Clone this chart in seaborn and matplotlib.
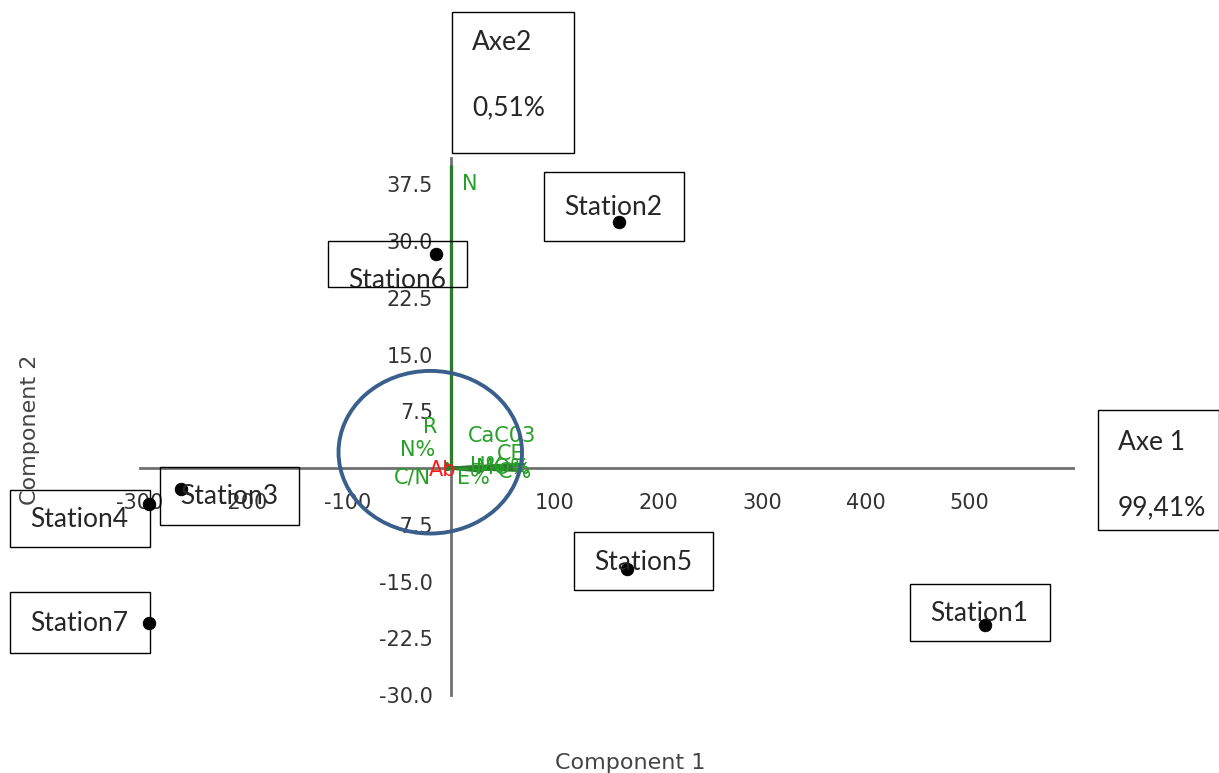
import matplotlib
matplotlib.use("Agg")
import matplotlib.pyplot as plt
import seaborn as sns
import pandas as pd
from matplotlib.patches import Rectangle, Ellipse

# Station scores on the two first components
stations = ["Station1", "Station2", "Station3", "Station4", "Station5", "Station6", "Station7"]
comp1 = [515, 162, -260, -291, 170, -14, -291]
comp2 = [-20.7, 32.5, -2.7, -4.8, -13.3, 28.3, -20.5]

# Variable loadings (vector ends) and where their labels sit
variables = ["N", "R", "N%", "C/N", "CaC03", "CE", "H%", "MO%", "C%", "E%", "Ab"]
load_x = [0, -4, -5, -4, 70, 65, 55, 60, 68, 30, -2]
load_y = [40, 0.6, 0.4, -0.2, 0.5, 0.4, 0.1, -0.1, -0.3, -0.4, -0.1]
label_x = [18, -20, -32, -37, 49, 58, 35, 50, 62, 22, -8]
label_y = [37.5, 5.4, 2.4, -1.2, 4.2, 1.8, 0.3, 0.0, -0.5, -1.3, -0.3]
label_colors = ["#26a026"] * 10 + ["#ff1a1a"]

x_ticks = [-300, -200, -100, 100, 200, 300, 400, 500]
y_ticks = [-30.0, -22.5, -15.0, -7.5, 7.5, 15.0, 22.5, 30.0, 37.5]

# text boxes drawn over the picture, in pixels:
# (first line, second line, left, top, right, bottom, first line y, second line y)
axis_boxes = [
    ("Axe2", "0,51%", 452, 12, 574, 153, 43, 108),
    ("Axe 1", "99,41%", 1098, 410, 1219, 530, 443, 508),
]
station_boxes = [
    ("Station1", 910, 584, 1050, 641),
    ("Station2", 544, 172, 684, 241),
    ("Station3", 160, 467, 299, 525),
    ("Station4", 10, 490, 150, 547),
    ("Station5", 574, 532, 713, 590),
    ("Station6", 328, 241, 467, 287),
    ("Station7", 10, 592, 150, 653),
]

W, H = 1219, 773
box_font = ["Lato", "DejaVu Sans"]

sns.set_style("white")
plt.rcParams["font.family"] = ["DejaVu Sans"]

fig = plt.figure(figsize=(W / 100, H / 100), dpi=100)
ax = fig.add_axes([140 / W, 1 - 695 / H, (1073 - 140) / W, (695 - 158) / H])
ax.set_xlim(-300, 600)
ax.set_ylim(-30, 41)

# axes crossing at the origin
axis_gray = "#707070"
for side in ["top", "right"]:
    ax.spines[side].set_visible(False)
for side in ["left", "bottom"]:
    ax.spines[side].set_position(("data", 0))
    ax.spines[side].set_color(axis_gray)
    ax.spines[side].set_linewidth(2)
ax.set_xticks(x_ticks)
ax.set_yticks(y_ticks)
ax.set_xticklabels([str(t) for t in x_ticks])
ax.set_yticklabels([f"{t:.1f}" for t in y_ticks])
ax.tick_params(axis="x", direction="out", length=8, width=2, color=axis_gray,
               labelsize=15, labelcolor="#333333", pad=10)
ax.tick_params(axis="y", direction="out", length=10, width=2, color=axis_gray,
               labelsize=15, labelcolor="#333333", pad=3)

# loading vectors
for vx, vy in zip(load_x, load_y):
    ax.plot([0, vx], [0, vy], color="#2f7a2f", lw=2.4, zorder=3)
for name, tx, ty, c in zip(variables, label_x, label_y, label_colors):
    ax.text(tx, ty, name, color=c, fontsize=15, ha="center", va="center", zorder=4)

# station scores
df = pd.DataFrame({"Component 1": comp1, "Component 2": comp2, "station": stations})
sns.scatterplot(data=df, x="Component 1", y="Component 2", color="black", s=80,
                edgecolor="black", zorder=5, ax=ax)
ax.set_xlabel("")
ax.set_ylabel("")

# highlighted cluster around the origin
ax.add_patch(Ellipse((-20, 2.1), 177, 21.5, fill=False, edgecolor="#3b5f8c",
                     lw=2.8, zorder=6))

fig.text(630 / W, 1 - 763 / H, "Component 1", ha="center", va="center",
         fontsize=16, color="#444444")
fig.text(30 / W, 1 - 430 / H, "Component 2", ha="center", va="center",
         rotation=90, fontsize=16, color="#444444")


def add_rect(left, top, right, bottom):
    rect = Rectangle((left / W, 1 - bottom / H), (right - left) / W, (bottom - top) / H,
                     transform=fig.transFigure, fill=False, edgecolor="black", lw=1.0)
    fig.add_artist(rect)
    return rect


for first, second, l, t, r, b, y1, y2 in axis_boxes:
    add_rect(l, t, r, b)
    fig.text((l + 20) / W, 1 - y1 / H, first, ha="left", va="center",
             fontsize=19, family=box_font)
    fig.text((l + 20) / W, 1 - y2 / H, second, ha="left", va="center",
             fontsize=19, family=box_font)

for label, l, t, r, b in station_boxes:
    rect = add_rect(l, t, r, b)
    if label == "Station6":
        # text sits low in its box and is cut by the bottom edge
        txt = fig.text((l + 20) / W, 1 - (b - 6) / H, label, ha="left", va="center",
                       fontsize=19, family=box_font)
        txt.set_clip_path(rect)
    else:
        fig.text((l + 20) / W, 1 - ((t + b) / 2 + 1) / H, label, ha="left", va="center",
                 fontsize=19, family=box_font)

fig.savefig("out.png", dpi=100)
